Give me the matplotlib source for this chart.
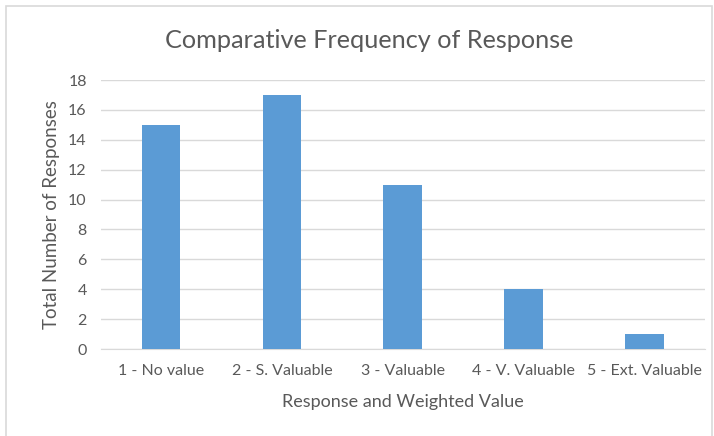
import matplotlib.pyplot as plt
from matplotlib.patches import Rectangle

categories = ['1 - No value', '2 - S. Valuable', '3 - Valuable', '4 - V. Valuable', '5 - Ext. Valuable']
responses = [15, 17, 11, 4, 1]
y_ticks = [0, 2, 4, 6, 8, 10, 12, 14, 16, 18]

plt.rcParams['font.family'] = ['Lato', 'DejaVu Sans']
text_color = '#595959'

fig = plt.figure(figsize=(7.14, 4.36), dpi=100, facecolor='white')
ax = fig.add_axes([0.141, 0.1995, 0.846, 0.617])

x = range(len(categories))
ax.bar(x, responses, width=0.32, color='#5B9BD5', zorder=3)

ax.set_xlim(-0.5, len(categories) - 0.5)
ax.set_ylim(0, 18)
ax.set_yticks(y_ticks)
ax.set_xticks(list(x))
ax.set_xticklabels(categories)
ax.grid(axis='y', color='#D9D9D9', linewidth=1, zorder=0)
ax.tick_params(axis='both', length=0, labelsize=11.5, colors=text_color)
ax.tick_params(axis='y', pad=10)
ax.tick_params(axis='x', pad=11)

for side in ['top', 'right', 'left']:
    ax.spines[side].set_visible(False)
ax.spines['bottom'].set_color('#D9D9D9')

# title sits centred on the chart area, not the plot area
fig.text(369 / 714, 1 - 41 / 436, 'Comparative Frequency of Response', fontsize=18.2,
         color=text_color, ha='center', va='center')
ax.set_xlabel('Response and Weighted Value', fontsize=13, color=text_color, labelpad=11)
ax.set_ylabel('Total Number of Responses', fontsize=13.5, color=text_color, labelpad=6)

# light chart border like the Excel chart area
fig.patches.append(Rectangle((6 / 714, -0.01), 706 / 714, 1 - 6 / 436 + 0.01,
                             transform=fig.transFigure, fill=False,
                             edgecolor='#D9D9D9', linewidth=1.2))

fig.savefig('out.png', dpi=100)
